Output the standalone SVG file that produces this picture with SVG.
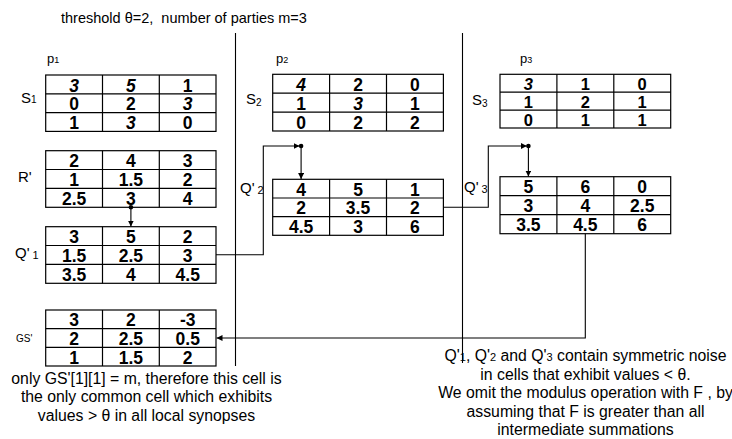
<svg xmlns="http://www.w3.org/2000/svg" width="732" height="439" viewBox="0 0 732 439">
<style>
text{font-family:"Liberation Sans",Arial,sans-serif;fill:#000}
.grid{fill:#fff;stroke:#000;stroke-width:1.2}
.gl{stroke:#000;stroke-width:1.2}
.num{font-size:17.5px;font-weight:bold;text-anchor:middle}
.sm{font-size:16.5px}
.it{font-style:italic}
.lbl{font-size:15px}
.note{font-size:15.8px;text-anchor:middle}
.conn{fill:none;stroke:#000;stroke-width:1.1}
.div{stroke:#000;stroke-width:1.1}
</style>
<defs>
<marker id="ah" viewBox="0 0 10 10" refX="10" refY="5" markerWidth="6" markerHeight="6" markerUnits="userSpaceOnUse" orient="auto">
<path d="M0,0 L10,5 L0,10 z" fill="#000"/>
</marker>
</defs>

<text x="61" y="23" style="font-size:14.5px">threshold θ=2,&#160; number of parties m=3</text>

<g id="dividers">
<line class="div" x1="235.5" y1="33" x2="235.5" y2="366"/>
<line class="div" x1="462.5" y1="33" x2="462.5" y2="363"/>
</g>

<g id="labels">
<text x="47" y="63" style="font-size:13px">p<tspan font-size="9">1</tspan></text>
<text x="276" y="63" style="font-size:13px">p<tspan font-size="9">2</tspan></text>
<text x="520" y="63" style="font-size:13px">p<tspan font-size="9">3</tspan></text>
<text class="lbl" x="21" y="103">S<tspan font-size="10">1</tspan></text>
<text class="lbl" x="246" y="104">S<tspan font-size="10" dy="2">2</tspan></text>
<text class="lbl" x="472" y="105">S<tspan font-size="10" dy="2">3</tspan></text>
<text class="lbl" x="18" y="182">R'</text>
<text class="lbl" x="15" y="258">Q'<tspan font-size="11" dy="1"> 1</tspan></text>
<text class="lbl" x="240" y="193">Q'<tspan font-size="11" dy="1"> 2</tspan></text>
<text class="lbl" x="464" y="192">Q'<tspan font-size="11" dy="1"> 3</tspan></text>
<text x="16" y="342" style="font-size:10px">GS'</text>
</g>

<g id="S1">
<rect class="grid" x="45.7" y="75" width="170.3" height="56.4"/>
<path class="gl" d="M45.7,93.8H216M45.7,112.6H216M102.5,75V131.4M159.3,75V131.4"/>
<text class="num it" x="74.1" y="91.5">3</text><text class="num it" x="130.9" y="91.5">5</text><text class="num" x="187.7" y="91.5">1</text>
<text class="num" x="74.1" y="110.3">0</text><text class="num" x="130.9" y="110.3">2</text><text class="num it" x="187.7" y="110.3">3</text>
<text class="num" x="74.1" y="129.1">1</text><text class="num it" x="130.9" y="129.1">3</text><text class="num" x="187.7" y="129.1">0</text>
</g>

<g id="R">
<rect class="grid" x="45.7" y="150.7" width="170.3" height="56.6"/>
<path class="gl" d="M45.7,169.5H216M45.7,188.4H216M102.5,150.7V207.3M159.3,150.7V207.3"/>
<text class="num" x="74.1" y="167.2">2</text><text class="num" x="130.9" y="167.2">4</text><text class="num" x="187.7" y="167.2">3</text>
<text class="num" x="74.1" y="186">1</text><text class="num" x="130.9" y="186">1.5</text><text class="num" x="187.7" y="186">2</text>
<text class="num" x="74.1" y="204.9">2.5</text><text class="num" x="130.9" y="204.9">3</text><text class="num" x="187.7" y="204.9">4</text>
</g>

<g id="Q1">
<rect class="grid" x="45.7" y="226.7" width="170.3" height="56.6"/>
<path class="gl" d="M45.7,245.5H216M45.7,264.4H216M102.5,226.7V283.3M159.3,226.7V283.3"/>
<text class="num" x="74.1" y="243.2">3</text><text class="num" x="130.9" y="243.2">5</text><text class="num" x="187.7" y="243.2">2</text>
<text class="num" x="74.1" y="262">1.5</text><text class="num" x="130.9" y="262">2.5</text><text class="num" x="187.7" y="262">3</text>
<text class="num" x="74.1" y="280.9">3.5</text><text class="num" x="130.9" y="280.9">4</text><text class="num" x="187.7" y="280.9">4.5</text>
</g>

<g id="GS">
<rect class="grid" x="45.7" y="310" width="170.3" height="56"/>
<path class="gl" d="M45.7,328.7H216M45.7,347.4H216M102.5,310V366M159.3,310V366"/>
<text class="num" x="74.1" y="326.3">3</text><text class="num" x="130.9" y="326.3">2</text><text class="num" x="187.7" y="326.3">-3</text>
<text class="num" x="74.1" y="345">2</text><text class="num" x="130.9" y="345">2.5</text><text class="num" x="187.7" y="345">0.5</text>
<text class="num" x="74.1" y="363.7">1</text><text class="num" x="130.9" y="363.7">1.5</text><text class="num" x="187.7" y="363.7">2</text>
</g>

<g id="S2">
<rect class="grid" x="272.7" y="74.3" width="170.7" height="56.7"/>
<path class="gl" d="M272.7,93.2H443.4M272.7,112.1H443.4M329.6,74.3V131M386.5,74.3V131"/>
<text class="num it" x="301.1" y="90.8">4</text><text class="num" x="358" y="90.8">2</text><text class="num" x="414.9" y="90.8">0</text>
<text class="num" x="301.1" y="109.7">1</text><text class="num it" x="358" y="109.7">3</text><text class="num" x="414.9" y="109.7">1</text>
<text class="num" x="301.1" y="128.6">0</text><text class="num" x="358" y="128.6">2</text><text class="num" x="414.9" y="128.6">2</text>
</g>

<g id="Q2">
<rect class="grid" x="272.7" y="179.3" width="170.7" height="56"/>
<path class="gl" d="M272.7,198H443.4M272.7,216.6H443.4M329.6,179.3V235.3M386.5,179.3V235.3"/>
<text class="num" x="301.1" y="195.6">4</text><text class="num" x="358" y="195.6">5</text><text class="num" x="414.9" y="195.6">1</text>
<text class="num" x="301.1" y="214.3">2</text><text class="num" x="358" y="214.3">3.5</text><text class="num" x="414.9" y="214.3">2</text>
<text class="num" x="301.1" y="232.9">4.5</text><text class="num" x="358" y="232.9">3</text><text class="num" x="414.9" y="232.9">6</text>
</g>

<g id="S3">
<rect class="grid" x="500" y="74.3" width="170.7" height="53.7"/>
<path class="gl" d="M500,92.2H670.7M500,110.1H670.7M556.9,74.3V128M613.8,74.3V128"/>
<text class="num sm it" x="528.4" y="90.2">3</text><text class="num sm" x="585.3" y="90.2">1</text><text class="num sm" x="642.2" y="90.2">0</text>
<text class="num sm" x="528.4" y="108.1">1</text><text class="num sm" x="585.3" y="108.1">2</text><text class="num sm" x="642.2" y="108.1">1</text>
<text class="num sm" x="528.4" y="126">0</text><text class="num sm" x="585.3" y="126">1</text><text class="num sm" x="642.2" y="126">1</text>
</g>

<g id="Q3">
<rect class="grid" x="500" y="176.7" width="170.7" height="57"/>
<path class="gl" d="M500,195.7H670.7M500,214.7H670.7M556.9,176.7V233.7M613.8,176.7V233.7"/>
<text class="num" x="528.4" y="193.3">5</text><text class="num" x="585.3" y="193.3">6</text><text class="num" x="642.2" y="193.3">0</text>
<text class="num" x="528.4" y="212.3">3</text><text class="num" x="585.3" y="212.3">4</text><text class="num" x="642.2" y="212.3">2.5</text>
<text class="num" x="528.4" y="231.3">3.5</text><text class="num" x="585.3" y="231.3">4.5</text><text class="num" x="642.2" y="231.3">6</text>
</g>

<g id="connectors">
<circle cx="130.9" cy="207.3" r="2.3"/>
<line class="conn" x1="130.9" y1="207.3" x2="130.9" y2="226.5" marker-end="url(#ah)"/>
<polyline class="conn" points="216,254.8 263.3,254.8 263.3,146 299.5,146" marker-end="url(#ah)"/>
<circle cx="301.1" cy="146" r="2.3"/>
<line class="conn" x1="301.1" y1="146" x2="301.1" y2="179.1" marker-end="url(#ah)"/>
<polyline class="conn" points="443.4,207.3 488.3,207.3 488.3,146 526.8,146" marker-end="url(#ah)"/>
<circle cx="528.4" cy="146" r="2.3"/>
<line class="conn" x1="528.4" y1="146" x2="528.4" y2="176.5" marker-end="url(#ah)"/>
<polyline class="conn" points="585.3,233.7 585.3,338 216.5,338" marker-end="url(#ah)"/>
</g>

<g id="note-left">
<text class="note" x="146.5" y="383.5">only GS'[1][1] = m, therefore this cell is</text>
<text class="note" x="146.5" y="402">the only common cell which exhibits</text>
<text class="note" x="146.5" y="420.5">values &gt; θ in all local synopses</text>
</g>

<g id="note-right">
<text class="note" x="585.5" y="361">Q'<tspan font-size="11">1</tspan>, Q'<tspan font-size="11">2</tspan> and Q'<tspan font-size="11">3</tspan> contain symmetric noise</text>
<text class="note" x="585.5" y="379.5">in cells that exhibit values &lt; θ.</text>
<text class="note" x="585.5" y="398">We omit the modulus operation with F , by</text>
<text class="note" x="585.5" y="416.5">assuming that F is greater than all</text>
<text class="note" x="585.5" y="435">intermediate summations</text>
</g>
</svg>
